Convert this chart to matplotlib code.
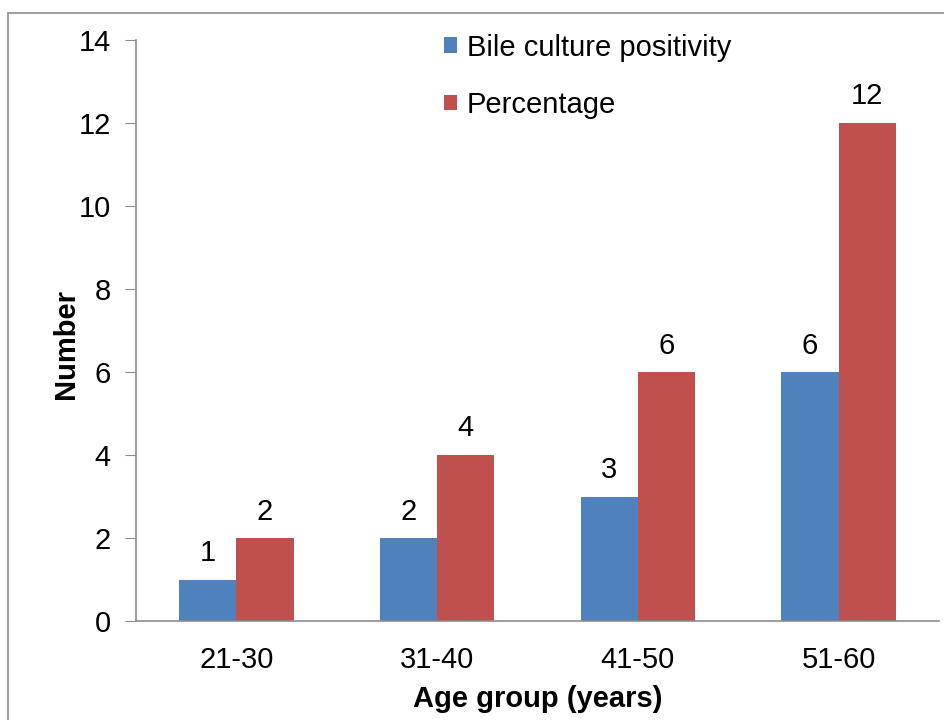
import numpy as np
import matplotlib.pyplot as plt
from matplotlib.patches import Rectangle

# data
age_groups = ['21-30', '31-40', '41-50', '51-60']
bile_positive = [1, 2, 3, 6]
percentage = [2, 4, 6, 12]

plt.rcParams['font.family'] = ['Liberation Sans', 'DejaVu Sans']
fs = 21

fig = plt.figure(figsize=(9.45, 7.2), dpi=100)
ax = fig.add_axes([136/945, 1 - 621/720, (939 - 136)/945, (621 - 40)/720])

# gray outer frame like the pasted Excel chart
fig.patches.append(Rectangle((8/945, -0.1), 1.2, 1 - 13/720 + 0.1,
                             transform=fig.transFigure, fill=False,
                             edgecolor='#8c8c8c', linewidth=1.2))

x = np.arange(len(age_groups))
w = 0.285
b1 = ax.bar(x - w/2, bile_positive, w, color='#4f81bd', label='Bile culture positivity')
b2 = ax.bar(x + w/2, percentage, w, color='#c0504d', label='Percentage')

for bars in (b1, b2):
    ax.bar_label(bars, padding=9, fontsize=fs)

ax.set_xlim(-0.5, 3.5)
ax.set_ylim(0, 14)
ax.set_yticks(range(0, 15, 2))
ax.set_xticks(x)
ax.set_xticklabels(age_groups)
ax.tick_params(axis='y', direction='out', length=8, color='#8c8c8c', labelsize=fs, pad=10)
ax.tick_params(axis='x', length=0, labelsize=fs, pad=18)

for s in ('top', 'right'):
    ax.spines[s].set_visible(False)
for s in ('left', 'bottom'):
    ax.spines[s].set_color('#8c8c8c')
    ax.spines[s].set_linewidth(1.2)

ax.set_ylabel('Number', fontsize=fs, fontweight='bold', labelpad=-1)
ax.yaxis.label.set_y(0.477)
ax.set_xlabel('Age group (years)', fontsize=fs, fontweight='bold', labelpad=8)

ax.legend(loc='upper left', bbox_to_anchor=(0.365, 1.036), frameon=False, fontsize=fs,
          borderpad=0, handlelength=0.45, handleheight=0.45, handletextpad=0.35,
          labelspacing=1.0)

plt.savefig('out.png', dpi=100)
